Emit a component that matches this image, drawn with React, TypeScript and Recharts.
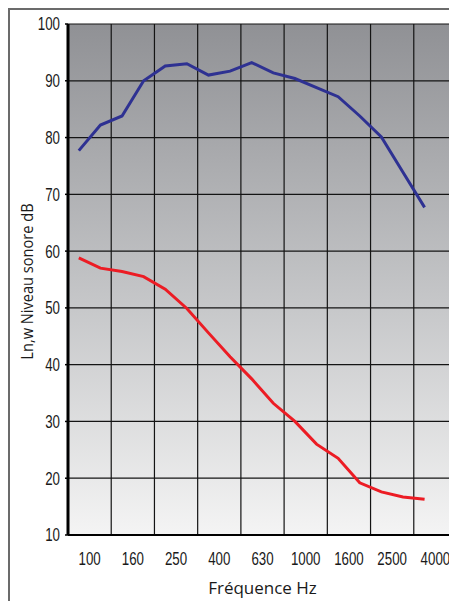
import { CartesianGrid, Label, Line, LineChart, ReferenceLine, XAxis, YAxis } from "recharts";

const frequencies = [
  "100", "125", "160", "200", "250", "315", "400", "500", "630",
  "800", "1000", "1250", "1600", "2000", "2500", "3150", "4000",
];
const impactLevel = [
  77.7, 82.2, 83.8, 90.0, 92.6, 93.0, 91.0, 91.7, 93.2,
  91.4, 90.4, 88.8, 87.2, 83.8, 80.1, 73.9, 67.7,
];
const insulatedLevel = [
  58.8, 57.0, 56.4, 55.5, 53.3, 49.9, 45.6, 41.4, 37.5,
  33.2, 30.0, 26.0, 23.5, 19.2, 17.6, 16.7, 16.3,
];
const xTickLabels = ["100", "160", "250", "400", "630", "1000", "1600", "2500", "4000"];
const yTicks = [10, 20, 30, 40, 50, 60, 70, 80, 90, 100];

const data = frequencies.map((f, i) => ({
  i,
  freq: f,
  high: impactLevel[i],
  low: insulatedLevel[i],
}));

// grid bands span two third-octave bands each
const gridTicks = xTickLabels.map((_, k) => k * 2 - 0.5).concat([17.5]);
const labelTicks = xTickLabels.map((_, k) => k * 2 + 0.5);

const titleFont = "'Open Sans', 'DejaVu Sans', sans-serif";

// condensed tick text, the original uses a narrow face
function NarrowTick(props: any) {
  const { x, y, payload, textAnchor, isX } = props;
  const text = isX
    ? xTickLabels[Math.round((payload.value - 0.5) / 2)]
    : String(payload.value);
  return (
    <g transform={`translate(${x},${y})`}>
      <text
        transform="scale(0.74,1)"
        textAnchor={textAnchor}
        dy={isX ? "0.71em" : "0.36em"}
        fontSize={18}
        fill="#1a1a1a"
        fontFamily="'Liberation Sans', Arial, sans-serif"
      >
        {text}
      </text>
    </g>
  );
}

function YTitle(props: any) {
  const vb = props.viewBox;
  const cx = vb.x + 17;
  const cy = vb.y + vb.height / 2 + 2;
  return (
    <text
      transform={`translate(${cx},${cy}) rotate(-90) scale(0.86,1)`}
      textAnchor="middle"
      dominantBaseline="central"
      fontSize={17}
      fill="#1a1a1a"
      fontFamily={titleFont}
    >
      Ln,w Niveau sonore dB
    </text>
  );
}

export default function App() {
  return (
    <div
      style={{
        width: 449,
        height: 593,
        boxSizing: "border-box",
        borderTop: "2px solid #6b6b6b",
        borderLeft: "2px solid #6b6b6b",
        background: "#fff",
      }}
    >
      <LineChart
        width={447}
        height={591}
        data={data}
        margin={{ top: 14, right: 0, left: 0, bottom: 0 }}
      >
        <defs>
          <linearGradient id="bg" x1="0" y1="0" x2="0" y2="1">
            <stop offset="0%" stopColor="#909195" />
            <stop offset="55%" stopColor="#c6c7c9" />
            <stop offset="100%" stopColor="#f4f4f4" />
          </linearGradient>
        </defs>
        <CartesianGrid
          xAxisId="grid"
          vertical={false}
          stroke="#141414"
          strokeWidth={1.2}
          fill="url(#bg)"
          fillOpacity={1}
        />
        {gridTicks.map((t) => (
          <ReferenceLine
            key={t}
            xAxisId="grid"
            x={t}
            stroke="#141414"
            strokeWidth={1.2}
            ifOverflow="extendDomain"
          />
        ))}
        <XAxis
          xAxisId="grid"
          type="number"
          dataKey="i"
          domain={[-0.5, 17.5]}
          ticks={gridTicks}
          tick={false}
          tickSize={4}
          height={6}
          axisLine={{ stroke: "#000", strokeWidth: 2 }}
          tickLine={{ stroke: "#000", strokeWidth: 1.5 }}
        />
        <XAxis
          xAxisId="lab"
          type="number"
          dataKey="i"
          domain={[-0.5, 17.5]}
          ticks={labelTicks}
          axisLine={false}
          tickLine={false}
          tickMargin={5}
          height={60}
          tick={<NarrowTick isX />}
        >
          <Label
            value="Fréquence Hz"
            position="insideBottom"
            offset={7}
            style={{ fontSize: 17, fill: "#1a1a1a", fontFamily: titleFont }}
          />
        </XAxis>
        <YAxis
          type="number"
          domain={[10, 100]}
          ticks={yTicks}
          width={58}
          tickSize={3}
          tickMargin={5}
          axisLine={{ stroke: "#000", strokeWidth: 3 }}
          tickLine={{ stroke: "#000", strokeWidth: 1.5 }}
          tick={<NarrowTick />}
        >
          <Label content={<YTitle />} />
        </YAxis>
        <Line
          xAxisId="grid"
          type="linear"
          dataKey="high"
          stroke="#2e3192"
          strokeWidth={3}
          dot={false}
          isAnimationActive={false}
        />
        <Line
          xAxisId="grid"
          type="linear"
          dataKey="low"
          stroke="#ec1c24"
          strokeWidth={3}
          dot={false}
          isAnimationActive={false}
        />
      </LineChart>
    </div>
  );
}
